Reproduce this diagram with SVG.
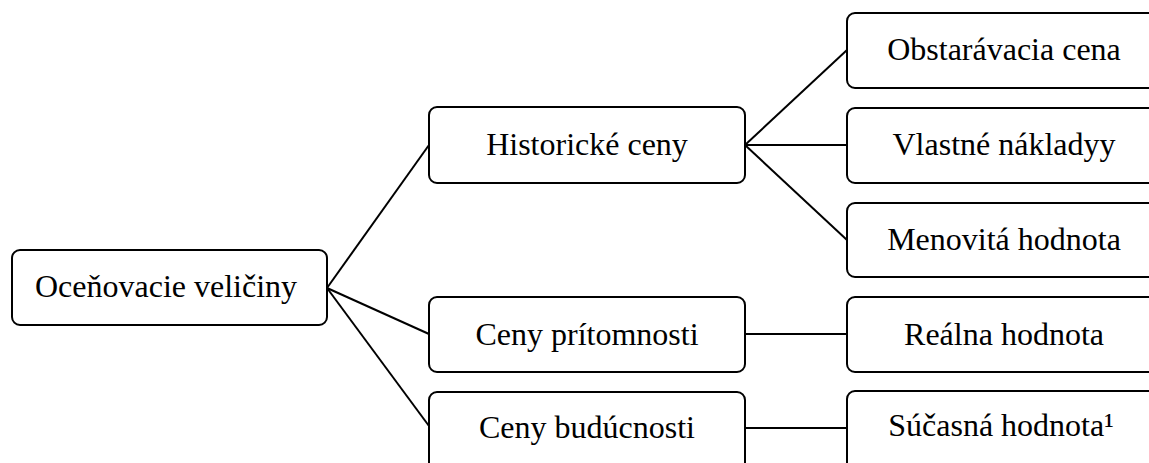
<svg xmlns="http://www.w3.org/2000/svg" width="1149" height="463" viewBox="0 0 1149 463">
<style>
.box{fill:#fff;stroke:#000;stroke-width:2}
.lbl{font-family:"Liberation Serif","Times New Roman",serif;font-size:32px;fill:#000;text-anchor:middle}
.con{stroke:#000;stroke-width:2;fill:none}
</style>
<rect width="1149" height="463" fill="#fff"/>
<g id="connectors">
<line class="con" x1="327" y1="288" x2="429" y2="145"/>
<line class="con" x1="327" y1="288" x2="429" y2="334"/>
<line class="con" x1="327" y1="288" x2="429" y2="426"/>
<line class="con" x1="745" y1="145" x2="847" y2="50"/>
<line class="con" x1="745" y1="145" x2="847" y2="145"/>
<line class="con" x1="745" y1="145" x2="847" y2="240"/>
<line class="con" x1="745" y1="334" x2="847" y2="334"/>
<line class="con" x1="745" y1="428" x2="847" y2="428"/>
</g>
<g id="n-root"><rect class="box" x="12" y="250" width="315" height="75" rx="8"/><text class="lbl" x="166" y="297">Oceňovacie veličiny</text></g>
<g id="n-hist"><rect class="box" x="429" y="107" width="316" height="76" rx="8"/><text class="lbl" x="587" y="155">Historické ceny</text></g>
<g id="n-prit"><rect class="box" x="429" y="297" width="316" height="75" rx="8"/><text class="lbl" x="587" y="345">Ceny prítomnosti</text></g>
<g id="n-bud"><rect class="box" x="429" y="392" width="316" height="80" rx="8"/><text class="lbl" x="587" y="438">Ceny budúcnosti</text></g>
<g id="n-obst"><rect class="box" x="847" y="13" width="320" height="75" rx="8"/><text class="lbl" x="1004" y="60">Obstarávacia cena</text></g>
<g id="n-vlast"><rect class="box" x="847" y="108" width="320" height="75" rx="8"/><text class="lbl" x="1004" y="155">Vlastné nákladyy</text></g>
<g id="n-men"><rect class="box" x="847" y="203" width="320" height="74" rx="8"/><text class="lbl" x="1004" y="250">Menovitá hodnota</text></g>
<g id="n-real"><rect class="box" x="847" y="297" width="320" height="75" rx="8"/><text class="lbl" x="1004" y="345">Reálna hodnota</text></g>
<g id="n-suc"><rect class="box" x="847" y="391" width="320" height="80" rx="8"/><text class="lbl" x="1001" y="436">Súčasná hodnota¹</text></g>
</svg>
